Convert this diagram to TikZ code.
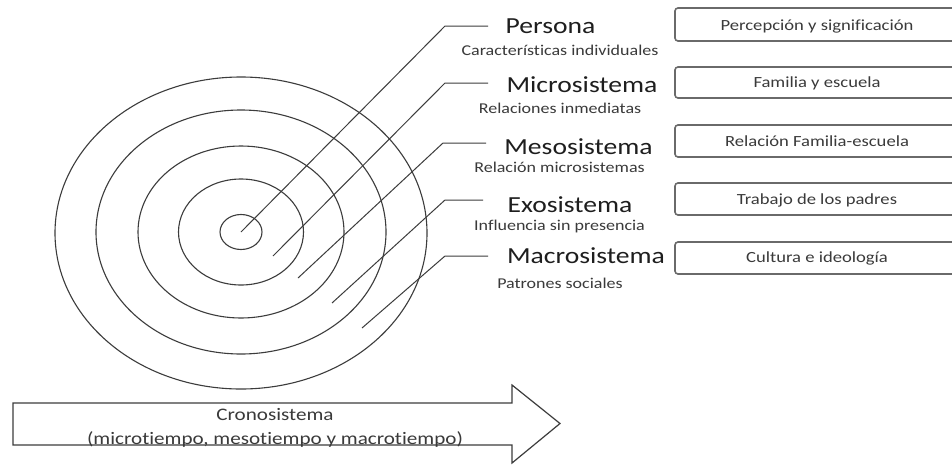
\documentclass[tikz,border=0pt]{standalone}
\usepackage{fontspec}
\setmainfont{Carlito}[FakeStretch=1.2,Ligatures=NoCommon]
\definecolor{ink}{HTML}{1E1E1E}
\definecolor{subink}{HTML}{3A3A3A}
\definecolor{lineink}{HTML}{3C3C3C}
\definecolor{boxline}{HTML}{6A6A6A}
\begin{document}
\begin{tikzpicture}[x=1pt,y=-1pt,
  ring/.style={draw=lineink,line width=1.1pt},
  leader/.style={draw=lineink,line width=1.0pt},
  title/.style={inner sep=0pt,anchor=base,text=ink,font=\fontsize{23}{27}\selectfont},
  subtitle/.style={inner sep=0pt,anchor=base,text=subink,font=\fontsize{15}{18}\selectfont},
  factor/.style={draw=boxline,line width=1.6pt,rounded corners=3pt,minimum width=285pt,inner sep=0pt},
  factortext/.style={inner sep=0pt,anchor=base,text=subink,font=\fontsize{15.5}{18}\selectfont},
  arrowtext/.style={inner sep=0pt,anchor=base,text=subink,font=\fontsize{17.6}{20}\selectfont}]
\useasboundingbox (0,0) rectangle (952,466);
\fill[white] (0,0) rectangle (952,466);

% concentric rings
\coordinate (c) at (241,232);
\draw[ring] (c) ellipse [x radius=21, y radius=17.5];
\draw[ring] (c) ellipse [x radius=62.5, y radius=53];
\draw[ring] (c) ellipse [x radius=103, y radius=86];
\draw[ring] (c) ellipse [x radius=145, y radius=122];
\draw[ring] (241,233) ellipse [x radius=186, y radius=156];

% leader points
\coordinate (p1) at (241,232);
\coordinate (p2) at (273,256);
\coordinate (p3) at (298,278);
\coordinate (p4) at (332,303);
\coordinate (p5) at (362,328);
\coordinate (b1) at (445,26);
\coordinate (b2) at (445,83);
\coordinate (b3) at (443,143);
\coordinate (b4) at (445,200);
\coordinate (b5) at (445,256);
\coordinate (e1) at (488,26);
\coordinate (e2) at (488,83);
\coordinate (e3) at (486,143);
\coordinate (e4) at (483,200);
\coordinate (e5) at (488,256);
\draw[leader] (p1) -- (b1) -- (e1);
\draw[leader] (p2) -- (b2) -- (e2);
\draw[leader] (p3) -- (b3) -- (e3);
\draw[leader] (p4) -- (b4) -- (e4);
\draw[leader] (p5) -- (b5) -- (e5);

% titles and subtitles
\node[title] (t1) at (550.5,33) {Persona};
\node[subtitle] (s1) at (560,55) {Características individuales};
\node[title] (t2) at (582,92) {Microsistema};
\node[subtitle] (s2) at (560,113) {Relaciones inmediatas};
\node[title] (t3) at (578.5,154) {Mesosistema};
\node[subtitle] (s3) at (559.5,172) {Relación microsistemas};
\node[title] (t4) at (570,212) {Exosistema};
\node[subtitle] (s4) at (559.5,230) {Influencia sin presencia};
\node[title] (t5) at (586,263) {Macrosistema};
\node[subtitle] (s5) at (560,288) {Patrones sociales};

% factor boxes
\node[factor,minimum height=33pt] (f1) at (817.5,24.5) {};
\node[factor,minimum height=31pt] (f2) at (817.5,82.5) {};
\node[factor,minimum height=32pt] (f3) at (817.5,141) {};
\node[factor,minimum height=32pt] (f4) at (817.5,199) {};
\node[factor,minimum height=32pt] (f5) at (817.5,258) {};
\node[factortext] (ft1) at (817,30) {Percepción y significación};
\node[factortext] (ft2) at (817,87) {Familia y escuela};
\node[factortext] (ft3) at (817,146) {Relación Familia-escuela};
\node[factortext] (ft4) at (817,204) {Trabajo de los padres};
\node[factortext] (ft5) at (817,262) {Cultura e ideología};

% chronosystem arrow
\draw[draw=lineink,line width=1.2pt,line join=miter]
  (13,403) -- (512,403) -- (512,385) -- (560,423.5) -- (512,463) -- (512,445) -- (13,445) -- cycle;
\node[arrowtext] (a1) at (275,420) {Cronosistema};
\node[arrowtext] (a2) at (275,444) {(microtiempo, mesotiempo y macrotiempo)};
\end{tikzpicture}
\end{document}
